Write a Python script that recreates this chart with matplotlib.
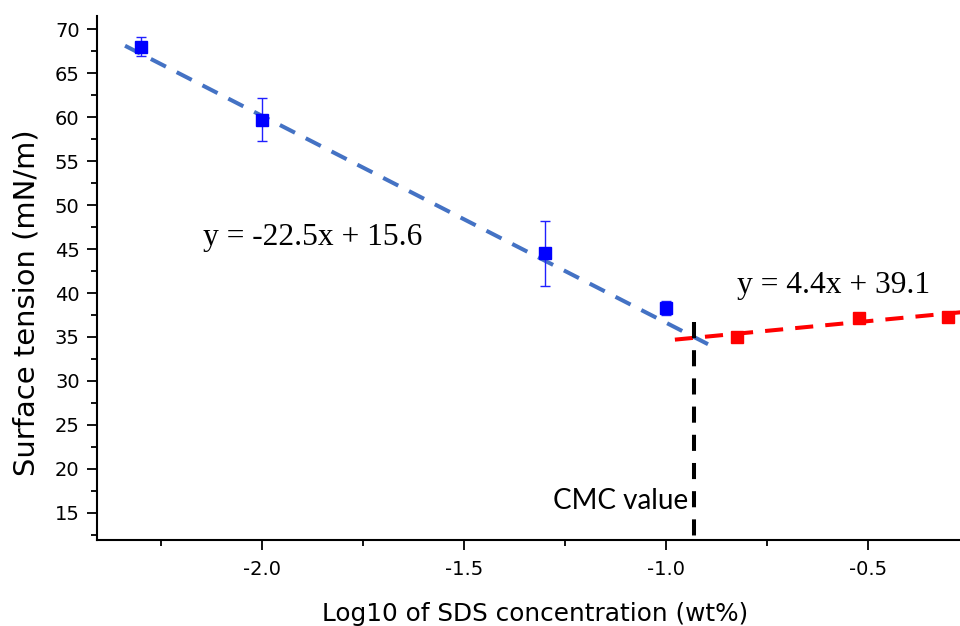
import matplotlib
matplotlib.use("Agg")
import matplotlib.pyplot as plt
from matplotlib.ticker import MultipleLocator

# measured points (log10 wt%, mN/m)
blue_x = [-2.3, -2.0, -1.3, -1.0]
blue_y = [68.0, 59.7, 44.5, 38.3]
blue_err = [1.1, 2.45, 3.7, 0.75]

red_x = [-0.824, -0.523, -0.301]
red_y = [35.0, 37.2, 37.3]

# fit lines as drawn in the figure (endpoints)
blue_fit_x = [-2.339, -0.884]
blue_fit_y = [68.1, 33.9]
red_fit_x = [-0.978, -0.25]
red_fit_y = [34.7, 37.9]

cmc_x = -0.931
cmc_top = 36.7

blue_eq = "y = -22.5x + 15.6"
red_eq = "y = 4.4x + 39.1"

x_ticks = [-2.0, -1.5, -1.0, -0.5]
x_tick_labels = ["-2.0", "-1.5", "-1.0", "-0.5"]
y_ticks = [15, 20, 25, 30, 35, 40, 45, 50, 55, 60, 65, 70]

plt.rcParams["font.family"] = ["DejaVu Sans"]
plt.rcParams["axes.unicode_minus"] = False

fig = plt.figure(figsize=(9.6, 6.26), dpi=100)
ax = fig.add_axes([97 / 960, 1 - 540 / 626, 863 / 960, 524 / 626])

ax.plot(blue_fit_x, blue_fit_y, color="#4472C4", lw=2.9, linestyle=(0, (4.2, 3.0)), zorder=2)
ax.plot(red_fit_x, red_fit_y, color="#FF0000", lw=2.9, linestyle=(0, (4.5, 3.0)), zorder=2)
ax.plot([cmc_x, cmc_x], [cmc_top, 11.1], color="black", lw=2.9, linestyle=(0, (4.0, 3.0)),
        zorder=2, clip_on=False)

ax.errorbar(blue_x, blue_y, yerr=blue_err, fmt="s", color="#0000FF", ecolor="#2020FF",
            markersize=8, elinewidth=1.0, capsize=3.6, capthick=1.0, zorder=3)
ax.plot(red_x, red_y, "s", color="#FF0000", markersize=8, zorder=3)

ax.text(-2.146, 45.5, blue_eq, family="Liberation Serif", fontsize=22.7, ha="left", va="baseline")
ax.text(-0.824, 40.03, red_eq, family="Liberation Serif", fontsize=22.7, ha="left", va="baseline")
ax.text(-1.280, 15.49, "CMC value", family="Lato", fontsize=20, ha="left", va="baseline")

ax.set_xlim(-2.4084, -0.2723)
ax.set_ylim(11.93, 71.48)
ax.set_xticks(x_ticks)
ax.set_xticklabels(x_tick_labels)
ax.set_yticks(y_ticks)
ax.xaxis.set_minor_locator(MultipleLocator(0.25))
ax.yaxis.set_minor_locator(MultipleLocator(2.5))

for s in ["top", "right"]:
    ax.spines[s].set_visible(False)
for s in ["left", "bottom"]:
    ax.spines[s].set_linewidth(1.5)

ax.tick_params(which="major", direction="out", length=7.5, width=1.3, labelsize=14, pad=5)
ax.tick_params(which="minor", direction="out", length=4.5, width=1.3)
ax.tick_params(axis="x", which="major", pad=7)

ax.set_xlabel("Log10 of SDS concentration (wt%)", fontsize=17.8)
ax.set_ylabel("Surface tension (mN/m)", fontsize=20.9)
ax.xaxis.set_label_coords(0.5075, -0.118)
ax.yaxis.set_label_coords(-0.066, 0.452)

fig.savefig("out.png", dpi=100)
